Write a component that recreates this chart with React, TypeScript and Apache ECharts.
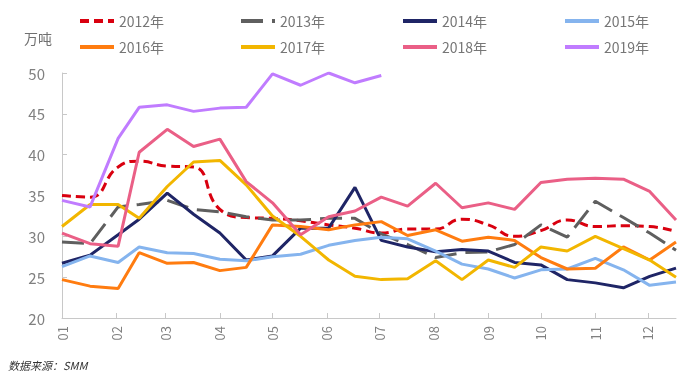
import React, { useEffect, useRef } from "react";
import * as echarts from "echarts";

const dates = [
  "01-01", "01-17", "02-02", "02-14", "03-02", "03-17", "04-01", "04-16",
  "05-01", "05-17", "06-02", "06-17", "07-02", "07-17", "08-02", "08-17",
  "09-01", "09-16", "10-01", "10-16", "11-01", "11-17", "12-02", "12-17",
];
const monthLabels = ["01", "02", "03", "04", "05", "06", "07", "08", "09", "10", "11", "12"];

const s2012 = [35.0, 34.8, 38.5, 39.2, 38.6, 38.5, 33.3, 32.3, 32.2, 31.9, 31.4, 31.0, 30.4, 30.9, 30.9, 32.1, 31.4, 30.0, 30.7, 32.0, 31.2, 31.3, 31.2, 30.6];
const s2013 = [29.3, 29.1, 33.6, 33.9, 34.4, 33.3, 33.0, 32.4, 32.0, 32.0, 32.2, 32.2, 30.3, 29.0, 27.4, 28.0, 28.1, 29.0, 31.4, 29.9, 34.3, 32.3, 30.4, 28.3];
const s2014 = [26.7, 27.7, 30.2, 32.1, 35.3, 32.7, 30.4, 27.1, 27.6, 31.0, 31.0, 36.0, 29.5, 28.7, 28.1, 28.4, 28.2, 26.8, 26.5, 24.7, 24.3, 23.7, 25.1, 26.1];
const s2015 = [26.3, 27.6, 26.8, 28.7, 28.0, 27.9, 27.2, 27.0, 27.5, 27.8, 28.9, 29.5, 29.9, 29.7, 28.2, 26.6, 26.0, 24.9, 25.9, 26.0, 27.3, 25.9, 24.0, 24.4];
const s2016 = [24.7, 23.9, 23.6, 28.0, 26.7, 26.8, 25.8, 26.2, 31.4, 31.2, 30.8, 31.4, 31.8, 30.1, 30.8, 29.4, 29.9, 29.5, 27.4, 26.0, 26.1, 28.7, 27.1, 29.3];
const s2017 = [31.2, 33.9, 33.9, 32.2, 36.1, 39.1, 39.3, 36.3, 32.5, 30.0, 27.1, 25.1, 24.7, 24.8, 27.0, 24.7, 27.1, 26.2, 28.7, 28.2, 30.0, 28.5, 27.1, 25.0];
const s2018 = [30.4, 29.1, 28.8, 40.3, 43.1, 41.0, 41.9, 36.7, 34.1, 30.2, 32.4, 33.1, 34.8, 33.7, 36.5, 33.5, 34.1, 33.3, 36.6, 37.0, 37.1, 37.0, 35.5, 32.0];
const s2019 = [34.4, 33.6, 42.0, 45.8, 46.1, 45.3, 45.7, 45.8, 49.9, 48.5, 50.0, 48.8, 49.7];

const yearNames = ["2012年", "2013年", "2014年", "2015年", "2016年", "2017年", "2018年", "2019年"];
const yearValues = [s2012, s2013, s2014, s2015, s2016, s2017, s2018, s2019];

const monthDays = [31, 28, 31, 30, 31, 30, 31, 31, 30, 31, 30, 31];
const monthStarts = monthDays.reduce<number[]>((acc, _d, i) => {
  acc.push(i === 0 ? 0 : acc[i - 1] + monthDays[i - 1]);
  return acc;
}, []);
const dayOfYear = (s: string) => {
  const [m, d] = s.split("-").map(Number);
  return monthStarts[m - 1] + d - 1;
};
const xDays = dates.map(dayOfYear);

const colors = ["#d9000f", "#5f5f5f", "#1f2566", "#85b4ee", "#ff7c10", "#f2b600", "#ea5f86", "#c07cff"];
const lineTypes: any[] = [[9, 5], [22, 9], "solid", "solid", "solid", "solid", "solid", "solid"];

const FONT = '"Noto Sans CJK SC", "Noto Sans", sans-serif';

export default function App() {
  const ref = useRef<HTMLDivElement>(null);
  useEffect(() => {
    if (!ref.current) return;
    const chart = echarts.init(ref.current, undefined, { renderer: "svg" });
    const legendLefts = [73, 234, 396, 558];
    const legends = yearNames.map((name, i) => ({
      data: [name],
      left: legendLefts[i % 4],
      top: i < 4 ? 9 : 35,
      itemWidth: 34,
      itemHeight: 14,
      itemStyle: { opacity: 0 },
      lineStyle: { width: 4 },
      textStyle: { color: "#767676", fontSize: 14, fontFamily: FONT },
      selectedMode: false,
    }));
    const series = yearNames.map((name, i) => ({
      name,
      type: "line",
      symbol: "none",
      smooth: i === 0 ? 0.5 : false,
      lineStyle: { color: colors[i], width: 3, type: lineTypes[i] },
      itemStyle: { color: colors[i] },
      data: yearValues[i].map((v, j) => [xDays[j], v]),
    }));
    chart.setOption({
      animation: false,
      textStyle: { fontFamily: FONT },
      legend: legends,
      grid: { left: 62, right: 16, top: 73, bottom: 59, containLabel: false },
      xAxis: {
        type: "value",
        min: 0,
        max: xDays[xDays.length - 1],
        splitLine: { show: false },
        axisLine: { show: true, lineStyle: { color: "#c8c8c8", width: 1 } },
        axisTick: {
          show: true,
          inside: true,
          length: 5,
          lineStyle: { color: "#c8c8c8" },
          customValues: monthStarts,
        },
        axisLabel: {
          rotate: 90,
          margin: 8,
          color: "#808080",
          fontSize: 13,
          fontFamily: FONT,
          customValues: monthStarts,
          formatter: (v: number) => {
            const idx = monthStarts.indexOf(v);
            return idx >= 0 ? monthLabels[idx] : "";
          },
        },
      },
      yAxis: {
        type: "value",
        min: 20,
        max: 50,
        interval: 5,
        splitLine: { show: false },
        axisLine: { show: true, lineStyle: { color: "#c8c8c8", width: 1 } },
        axisTick: { show: true, inside: true, length: 5, lineStyle: { color: "#c8c8c8" } },
        axisLabel: { color: "#808080", fontSize: 15, margin: 17, fontFamily: FONT },
      },
      graphic: [
        {
          type: "text",
          left: 24,
          top: 31,
          style: { text: "万吨", fill: "#707070", fontSize: 14, fontFamily: FONT },
        },
        {
          type: "text",
          left: 8,
          top: 359,
          style: {
            text: "数据来源：SMM",
            fill: "#333333",
            fontSize: 11,
            fontStyle: "italic",
            fontFamily: FONT,
          },
        },
      ],
      series,
    });
    return () => chart.dispose();
  }, []);
  return (
    <div
      ref={ref}
      style={{ position: "fixed", left: 0, top: 0, width: 692, height: 377 }}
    />
  );
}
